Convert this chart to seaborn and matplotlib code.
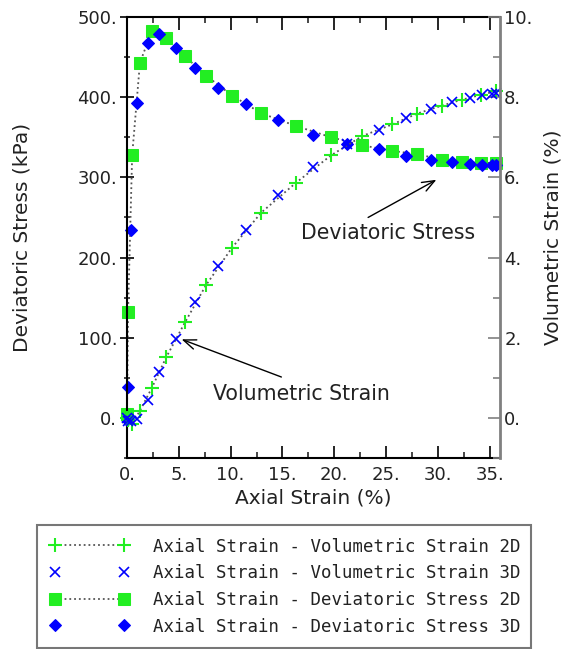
import numpy as np
import pandas as pd
import matplotlib
matplotlib.use("Agg")
import matplotlib.pyplot as plt
from matplotlib.ticker import MultipleLocator, FuncFormatter
import seaborn as sns

# ---- data ----
x_2d = [0.0, 0.1, 0.5, 1.25, 2.38, 3.78, 5.59, 7.62, 10.15, 12.95, 16.33, 19.7,
        22.7, 25.6, 28.0, 30.4, 32.35, 34.2, 35.65]
dev_2d = [5, 132, 328, 443, 482, 474, 451, 427, 402, 380, 364, 350,
          340, 333, 329, 322, 319, 318, 318]
vol_2d = [0.0, -0.05, -0.15, 0.18, 0.74, 1.51, 2.38, 3.31, 4.25, 5.12, 5.87, 6.55,
          7.03, 7.32, 7.59, 7.79, 7.94, 8.06, 8.15]

x_3d = [0.0, 0.13, 0.36, 1.0, 2.0, 3.11, 4.73, 6.56, 8.8, 11.45, 14.59, 17.97,
        21.27, 24.32, 26.93, 29.35, 31.4, 33.07, 34.25, 35.22, 35.65]
dev_3d = [-2, 38, 234, 393, 468, 479, 461, 437, 412, 391, 371, 353,
          342, 335, 327, 322, 319, 317, 316, 315, 315]
vol_3d = [0.0, -0.07, -0.08, -0.02, 0.45, 1.15, 1.98, 2.89, 3.79, 4.68, 5.55, 6.25,
          6.82, 7.18, 7.48, 7.71, 7.87, 7.98, 8.06, 8.09, 8.11]

labels = ["Axial Strain - Volumetric Strain 2D",
          "Axial Strain - Volumetric Strain 3D",
          "Axial Strain - Deviatoric Stress 2D",
          "Axial Strain - Deviatoric Stress 3D"]

df2 = pd.DataFrame({"x": x_2d, "dev": dev_2d, "vol": vol_2d})
df3 = pd.DataFrame({"x": x_3d, "dev": dev_3d, "vol": vol_3d})

sns.set_style("white")
plt.rcParams["font.family"] = ["DejaVu Sans"]

GREEN = "#22EE22"
BLUE = "#0000FF"
LINE = "#555555"

fig = plt.figure(figsize=(5.63, 6.49), dpi=100)
ax = fig.add_axes([127 / 563, 1 - 458 / 649, (500 - 127) / 563, (458 - 17) / 649])
ax2 = ax.twinx()

# deviatoric stress (left axis)
sns.lineplot(data=df2, x="x", y="dev", ax=ax, sort=False, estimator=None,
             color=LINE, linestyle=":", linewidth=1.3, marker="s", markersize=8,
             markerfacecolor=GREEN, markeredgecolor=GREEN, label=labels[2], legend=False)
sns.lineplot(data=df3, x="x", y="dev", ax=ax, sort=False, estimator=None,
             color=BLUE, linestyle="none", marker="D", markersize=6.3,
             markerfacecolor=BLUE, markeredgecolor=BLUE, label=labels[3], legend=False)

# volumetric strain (right axis)
sns.lineplot(data=df2, x="x", y="vol", ax=ax2, sort=False, estimator=None,
             color=LINE, linestyle=":", linewidth=1.3, marker="+", markersize=10,
             markeredgewidth=1.5, markeredgecolor=GREEN, label=labels[0], legend=False)
sns.lineplot(data=df3, x="x", y="vol", ax=ax2, sort=False, estimator=None,
             color=BLUE, linestyle="none", marker="x", markersize=7.5,
             markeredgewidth=1.2, markeredgecolor=BLUE, label=labels[1], legend=False)

for ln in ax.lines + ax2.lines:
    ln.set_clip_on(False)

ax.set_xlim(0, 36)
ax.set_ylim(-50, 500)
ax2.set_ylim(-1, 10)

fmt = FuncFormatter(lambda v, p: f"{int(round(v))}.")
ax.xaxis.set_major_locator(MultipleLocator(5))
ax.xaxis.set_minor_locator(MultipleLocator(2.5))
ax.yaxis.set_major_locator(MultipleLocator(100))
ax.yaxis.set_minor_locator(MultipleLocator(50))
ax2.yaxis.set_major_locator(MultipleLocator(2))
ax2.yaxis.set_minor_locator(MultipleLocator(1))
ax.xaxis.set_major_formatter(fmt)
ax.yaxis.set_major_formatter(fmt)
ax2.yaxis.set_major_formatter(fmt)

ax.tick_params(axis="x", which="major", direction="in", length=9, width=1.2,
               top=True, bottom=True, labelsize=13, pad=6, colors="black", labelcolor="#222222")
ax.tick_params(axis="x", which="minor", direction="in", length=4.5, width=1.2,
               top=True, bottom=True)
ax.tick_params(axis="y", which="major", direction="inout", length=10, width=1.2,
               labelsize=13, pad=2, colors="black", labelcolor="#222222")
ax.tick_params(axis="y", which="minor", direction="inout", length=5, width=1.2)
ax2.tick_params(axis="y", which="major", direction="in", length=9, width=1.2,
                labelsize=13, pad=3, colors="#808080", labelcolor="#222222")
ax2.tick_params(axis="y", which="minor", direction="in", length=5, width=1.2,
                colors="#808080")

for s in ["left", "bottom", "top"]:
    ax.spines[s].set_color("black")
    ax.spines[s].set_linewidth(1.5)
    ax2.spines[s].set_visible(False)
ax.spines["right"].set_visible(False)
ax2.spines["right"].set_color("#808080")
ax2.spines["right"].set_linewidth(2)

ax.set_xlabel("Axial Strain (%)", fontsize=14.5, color="#222222", labelpad=3)
ax.set_ylabel("Deviatoric Stress (kPa)", fontsize=14.5, color="#222222")
ax2.set_ylabel("Volumetric Strain (%)", fontsize=14.5, color="#222222")
ax.yaxis.set_label_coords((32 - 127) / 373, 0.5)
ax2.yaxis.set_label_coords((543 - 127) / 373, 0.5)

# annotations
arrow = dict(arrowstyle="->,head_length=0.9,head_width=0.35", color="black", lw=1.0,
             shrinkA=0, shrinkB=0)
ax.annotate("", xy=(5.27, 98), xytext=(14.9, 51), arrowprops=arrow)
ax.text(16.8, 30, "Volumetric Strain", ha="center", va="center",
        fontsize=14.8, color="#222222")
ax.annotate("", xy=(29.86, 297), xytext=(23.27, 250), arrowprops=arrow)
ax.text(25.2, 230, "Deviatoric Stress", ha="center", va="center",
        fontsize=14.8, color="#222222")

# legend
handles = [ax2.lines[0], ax2.lines[1], ax.lines[0], ax.lines[1]]
leg = fig.legend(handles, labels, loc="upper left",
                 bbox_to_anchor=(37 / 563, 1 - 525 / 649, (531 - 37) / 563, 0.0),
                 mode="expand", borderaxespad=0, numpoints=2, handlelength=4.6,
                 handletextpad=1.35, labelspacing=0.5, frameon=True, fancybox=False,
                 prop={"family": "DejaVu Sans Mono", "size": 12.5}, borderpad=0.72)
leg.get_frame().set_edgecolor("#555555")
leg.get_frame().set_linewidth(1.5)
for t in leg.get_texts():
    t.set_color("#222222")

fig.savefig("out.png", dpi=100)
